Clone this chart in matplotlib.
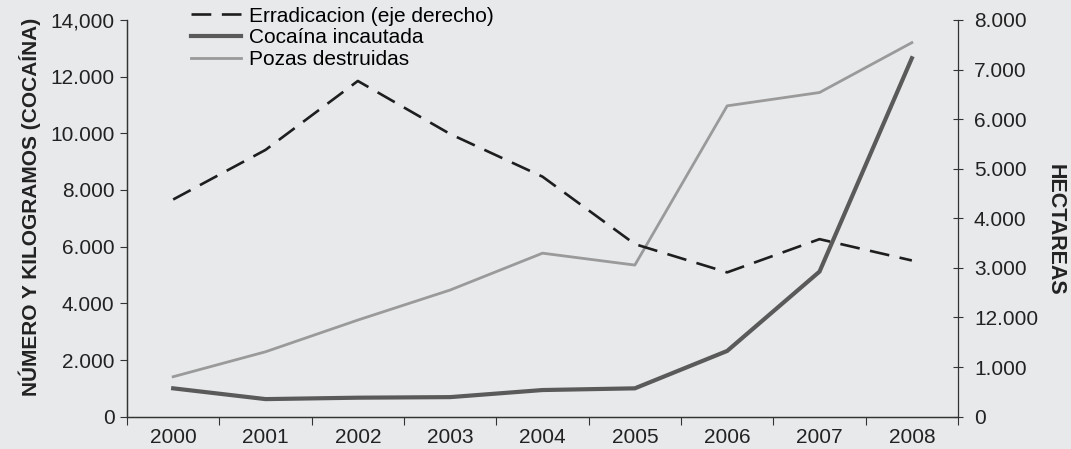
import matplotlib
matplotlib.use("Agg")
import matplotlib.pyplot as plt
from matplotlib.ticker import FixedLocator

plt.rcParams["font.family"] = ["Liberation Sans", "DejaVu Sans"]

years = ["2000", "2001", "2002", "2003", "2004", "2005", "2006", "2007", "2008"]
erradicacion = [4380, 5380, 6770, 5700, 4840, 3480, 2910, 3580, 3150]      # hectareas (right axis)
cocaina = [1000, 620, 670, 690, 940, 1000, 2320, 5120, 12650]               # kg
pozas = [1410, 2290, 3410, 4470, 5770, 5350, 10970, 11440, 13200]            # numero

left_ticks = [0, 2000, 4000, 6000, 8000, 10000, 12000, 14000]
left_labels = ["0", "2.000", "4.000", "6.000", "8.000", "10.000", "12.000", "14,000"]
right_ticks = [0, 1000, 2000, 3000, 4000, 5000, 6000, 7000, 8000]
right_labels = ["0", "1.000", "12.000", "3.000", "4.000", "5.000", "6.000", "7.000", "8.000"]

bg = "#e8e9eb"
fs = 15
fig = plt.figure(figsize=(10.71, 4.49), dpi=100, facecolor=bg)
ax = fig.add_axes([0.1186, 0.072, 0.7759, 0.8835])
ax.set_facecolor(bg)
ax2 = ax.twinx()
ax2.set_facecolor("none")

x = list(range(len(years)))

l1, = ax2.plot(x, erradicacion, color="#1e1e1e", lw=1.9, dashes=(7.5, 4),
               label="Erradicacion (eje derecho)", zorder=3)
l2, = ax.plot(x, cocaina, color="#5a5a5a", lw=3.0, label="Cocaína incautada", zorder=3,
              solid_joinstyle="miter")
l3, = ax.plot(x, pozas, color="#9a9a9a", lw=2.0, label="Pozas destruidas", zorder=2)

ax.set_xlim(-0.5, len(years) - 0.5)
ax.set_ylim(0, 14000)
ax2.set_ylim(0, 8000)

# category labels centred, tick marks on boundaries
ax.set_xticks(x)
ax.set_xticklabels(years, fontsize=fs, color="#222222")
ax.tick_params(axis="x", which="major", length=0, pad=8)
ax.xaxis.set_minor_locator(FixedLocator([i - 0.5 for i in range(len(years) + 1)]))
ax.tick_params(axis="x", which="minor", length=6, width=0.8, color="#333333")

ax.set_yticks(left_ticks)
ax.set_yticklabels(left_labels, fontsize=fs, color="#222222")
ax.tick_params(axis="y", length=5, width=0.8, pad=4, color="#333333")

ax2.set_yticks(right_ticks)
ax2.set_yticklabels(right_labels, fontsize=fs, color="#222222")
ax2.tick_params(axis="y", direction="inout", length=7, width=0.8, pad=8, color="#333333")

for a in (ax, ax2):
    a.spines["top"].set_visible(False)
    for s in ("left", "right", "bottom"):
        a.spines[s].set_linewidth(0.9)
        a.spines[s].set_color("#333333")
ax.spines["right"].set_visible(False)

ax.set_ylabel("NÚMERO Y KILOGRAMOS (COCAÍNA)", fontsize=15, fontweight="bold",
              color="#222222")
ax.yaxis.set_label_coords(-0.104, 0.53)
ax2.set_ylabel("HECTAREAS", fontsize=15.5, fontweight="bold", color="#222222",
               rotation=-90)
ax2.yaxis.set_label_coords(1.13, 0.47)

fig.legend(handles=[l1, l2, l3], loc="upper left", bbox_to_anchor=(0.176, 0.99),
           frameon=False, fontsize=fs, handlelength=2.4, handletextpad=0.42,
           labelspacing=0.13, borderpad=0.1, borderaxespad=0)

fig.savefig("out.png", dpi=100, facecolor=bg)
